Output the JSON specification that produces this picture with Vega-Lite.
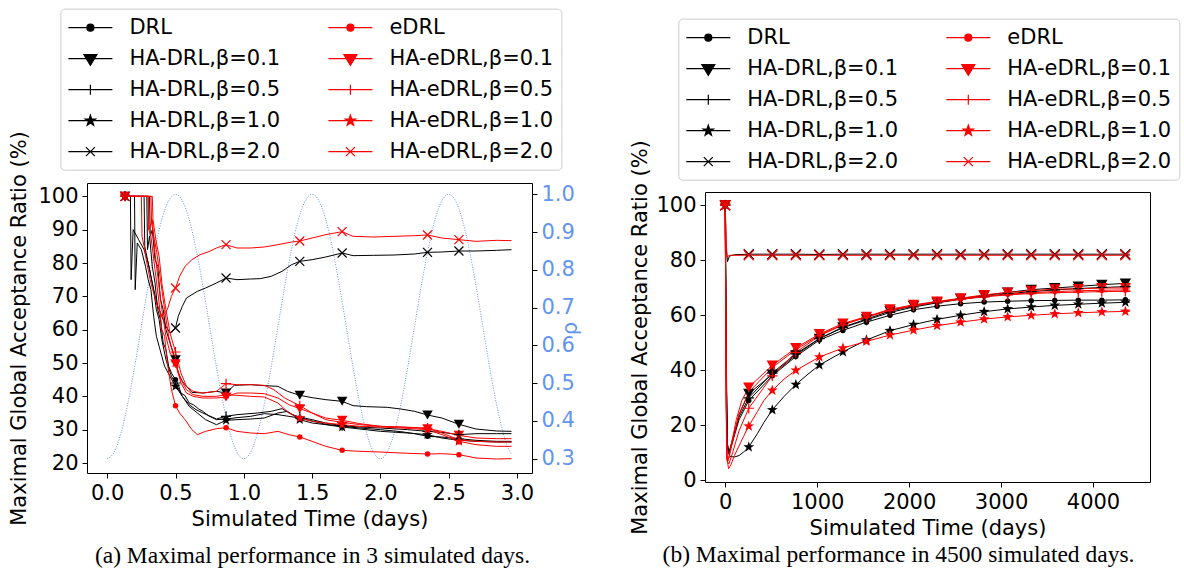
{
"$schema": "https://vega.github.io/schema/vega-lite/v6.json",
"padding": {"left": 8, "top": 7, "right": 5, "bottom": 5},
"spacing": 48,
"resolve": {"scale": {"color": "independent", "shape": "independent", "fill": "independent", "stroke": "independent"}, "legend": {"color": "independent", "shape": "independent", "fill": "independent", "stroke": "independent"}},
"config": {
  "font": "DejaVu Sans",
  "view": {"stroke": "#000000", "strokeWidth": 1},
  "axis": {"domain": false, "grid": false, "ticks": true, "tickColor": "#000000", "tickSize": 5, "tickWidth": 1, "labelFont": "DejaVu Sans", "labelFontSize": 21, "labelColor": "#000000", "labelPadding": 4, "labelOverlap": false, "labelFlush": false, "titleFont": "DejaVu Sans", "titleFontSize": 21, "titleFontWeight": "normal", "titleColor": "#000000", "titleLimit": 1000},
  "title": {"font": "Liberation Serif", "fontSize": 23.5, "fontWeight": "normal", "color": "#000000"}
},
"datasets": {
"rho": [
{"t":0,"rho":0.3},{"t":0.05,"rho":0.3171},{"t":0.1,"rho":0.3669},{"t":0.15,"rho":0.4443},{"t":0.2,"rho":0.5418},{"t":0.25,"rho":0.65},{"t":0.3,"rho":0.7582},{"t":0.35,"rho":0.8557},{"t":0.4,"rho":0.9332},{"t":0.45,"rho":0.9829},{"t":0.5,"rho":1},{"t":0.55,"rho":0.9829},{"t":0.6,"rho":0.9332},{"t":0.65,"rho":0.8557},{"t":0.7,"rho":0.7582},{"t":0.75,"rho":0.65},{"t":0.8,"rho":0.5418},{"t":0.85,"rho":0.4443},{"t":0.9,"rho":0.3669},{"t":0.95,"rho":0.3171},
{"t":1,"rho":0.3},{"t":1.05,"rho":0.3171},{"t":1.1,"rho":0.3669},{"t":1.15,"rho":0.4443},{"t":1.2,"rho":0.5418},{"t":1.25,"rho":0.65},{"t":1.3,"rho":0.7582},{"t":1.35,"rho":0.8557},{"t":1.4,"rho":0.9332},{"t":1.45,"rho":0.9829},{"t":1.5,"rho":1},{"t":1.55,"rho":0.9829},{"t":1.6,"rho":0.9332},{"t":1.65,"rho":0.8557},{"t":1.7,"rho":0.7582},{"t":1.75,"rho":0.65},{"t":1.8,"rho":0.5418},{"t":1.85,"rho":0.4443},{"t":1.9,"rho":0.3669},{"t":1.95,"rho":0.3171},
{"t":2,"rho":0.3},{"t":2.05,"rho":0.3171},{"t":2.1,"rho":0.3669},{"t":2.15,"rho":0.4443},{"t":2.2,"rho":0.5418},{"t":2.25,"rho":0.65},{"t":2.3,"rho":0.7582},{"t":2.35,"rho":0.8557},{"t":2.4,"rho":0.9332},{"t":2.45,"rho":0.9829},{"t":2.5,"rho":1},{"t":2.55,"rho":0.9829},{"t":2.6,"rho":0.9332},{"t":2.65,"rho":0.8557},{"t":2.7,"rho":0.7582},{"t":2.75,"rho":0.65},{"t":2.8,"rho":0.5418},{"t":2.85,"rho":0.4443},{"t":2.9,"rho":0.3669},{"t":2.95,"rho":0.3171},{"t":2.96,"rho":0.311}
],
"a": [
{"s":"DRL","t":0.13,"v":100},{"s":"DRL","t":0.29,"v":100},{"s":"DRL","t":0.295,"v":84},{"s":"DRL","t":0.31,"v":88},{"s":"DRL","t":0.33,"v":79},{"s":"DRL","t":0.35,"v":74},{"s":"DRL","t":0.37,"v":66},{"s":"DRL","t":0.39,"v":63},{"s":"DRL","t":0.41,"v":56},{"s":"DRL","t":0.43,"v":54},{"s":"DRL","t":0.45,"v":49},{"s":"DRL","t":0.47,"v":47},{"s":"DRL","t":0.5,"v":45},{"s":"DRL","t":0.52,"v":43.5},{"s":"DRL","t":0.54,"v":41},{"s":"DRL","t":0.57,"v":40.2},{"s":"DRL","t":0.6,"v":38},{"s":"DRL","t":0.63,"v":37.5},{"s":"DRL","t":0.67,"v":36.2},{"s":"DRL","t":0.7,"v":35.5},{"s":"DRL","t":0.74,"v":34.2},{"s":"DRL","t":0.8,"v":33},{"s":"DRL","t":0.87,"v":33.2},{"s":"DRL","t":0.95,"v":33.6},{"s":"DRL","t":1.05,"v":34},{"s":"DRL","t":1.15,"v":34.8},{"s":"DRL","t":1.25,"v":34.5},{"s":"DRL","t":1.33,"v":34},{"s":"DRL","t":1.41,"v":33.5},{"s":"DRL","t":1.5,"v":32.6},{"s":"DRL","t":1.6,"v":31.6},{"s":"DRL","t":1.72,"v":31},{"s":"DRL","t":1.85,"v":30.5},{"s":"DRL","t":2.0,"v":30},{"s":"DRL","t":2.15,"v":29.4},{"s":"DRL","t":2.25,"v":28.8},{"s":"DRL","t":2.345,"v":28},{"s":"DRL","t":2.45,"v":27.8},{"s":"DRL","t":2.575,"v":27.3},{"s":"DRL","t":2.7,"v":26.8},{"s":"DRL","t":2.85,"v":26.5},{"s":"DRL","t":2.96,"v":26.5},
{"s":"HA-DRL,β=0.1","t":0.13,"v":100},{"s":"HA-DRL,β=0.1","t":0.31,"v":100},{"s":"HA-DRL,β=0.1","t":0.315,"v":88},{"s":"HA-DRL,β=0.1","t":0.33,"v":90},{"s":"HA-DRL,β=0.1","t":0.35,"v":81},{"s":"HA-DRL,β=0.1","t":0.37,"v":79},{"s":"HA-DRL,β=0.1","t":0.39,"v":69},{"s":"HA-DRL,β=0.1","t":0.41,"v":66},{"s":"HA-DRL,β=0.1","t":0.43,"v":60},{"s":"HA-DRL,β=0.1","t":0.46,"v":56},{"s":"HA-DRL,β=0.1","t":0.5,"v":51},{"s":"HA-DRL,β=0.1","t":0.52,"v":47},{"s":"HA-DRL,β=0.1","t":0.55,"v":44.5},{"s":"HA-DRL,β=0.1","t":0.58,"v":43},{"s":"HA-DRL,β=0.1","t":0.62,"v":41.2},{"s":"HA-DRL,β=0.1","t":0.7,"v":41},{"s":"HA-DRL,β=0.1","t":0.8,"v":41.5},{"s":"HA-DRL,β=0.1","t":0.87,"v":41},{"s":"HA-DRL,β=0.1","t":0.93,"v":43.3},{"s":"HA-DRL,β=0.1","t":1.05,"v":43.5},{"s":"HA-DRL,β=0.1","t":1.15,"v":43.2},{"s":"HA-DRL,β=0.1","t":1.25,"v":43},{"s":"HA-DRL,β=0.1","t":1.32,"v":41.5},{"s":"HA-DRL,β=0.1","t":1.41,"v":40.3},{"s":"HA-DRL,β=0.1","t":1.5,"v":39.6},{"s":"HA-DRL,β=0.1","t":1.6,"v":39},{"s":"HA-DRL,β=0.1","t":1.72,"v":38.5},{"s":"HA-DRL,β=0.1","t":1.8,"v":37.2},{"s":"HA-DRL,β=0.1","t":1.9,"v":36.9},{"s":"HA-DRL,β=0.1","t":2.05,"v":36.7},{"s":"HA-DRL,β=0.1","t":2.15,"v":36.2},{"s":"HA-DRL,β=0.1","t":2.25,"v":35.5},{"s":"HA-DRL,β=0.1","t":2.345,"v":34.4},{"s":"HA-DRL,β=0.1","t":2.45,"v":33.5},{"s":"HA-DRL,β=0.1","t":2.575,"v":31.6},{"s":"HA-DRL,β=0.1","t":2.7,"v":30.2},{"s":"HA-DRL,β=0.1","t":2.85,"v":29.6},{"s":"HA-DRL,β=0.1","t":2.96,"v":29.5},
{"s":"HA-DRL,β=0.5","t":0.13,"v":100},{"s":"HA-DRL,β=0.5","t":0.27,"v":100},{"s":"HA-DRL,β=0.5","t":0.275,"v":85},{"s":"HA-DRL,β=0.5","t":0.29,"v":82},{"s":"HA-DRL,β=0.5","t":0.31,"v":78},{"s":"HA-DRL,β=0.5","t":0.34,"v":72},{"s":"HA-DRL,β=0.5","t":0.36,"v":66},{"s":"HA-DRL,β=0.5","t":0.38,"v":63},{"s":"HA-DRL,β=0.5","t":0.4,"v":57},{"s":"HA-DRL,β=0.5","t":0.43,"v":51},{"s":"HA-DRL,β=0.5","t":0.47,"v":46},{"s":"HA-DRL,β=0.5","t":0.5,"v":44},{"s":"HA-DRL,β=0.5","t":0.55,"v":40},{"s":"HA-DRL,β=0.5","t":0.6,"v":37.5},{"s":"HA-DRL,β=0.5","t":0.65,"v":36},{"s":"HA-DRL,β=0.5","t":0.7,"v":35},{"s":"HA-DRL,β=0.5","t":0.8,"v":33.2},{"s":"HA-DRL,β=0.5","t":0.87,"v":34},{"s":"HA-DRL,β=0.5","t":0.95,"v":34.5},{"s":"HA-DRL,β=0.5","t":1.1,"v":35},{"s":"HA-DRL,β=0.5","t":1.2,"v":35.5},{"s":"HA-DRL,β=0.5","t":1.28,"v":36.3},{"s":"HA-DRL,β=0.5","t":1.35,"v":34.6},{"s":"HA-DRL,β=0.5","t":1.41,"v":33.8},{"s":"HA-DRL,β=0.5","t":1.5,"v":33},{"s":"HA-DRL,β=0.5","t":1.6,"v":32},{"s":"HA-DRL,β=0.5","t":1.72,"v":31.2},{"s":"HA-DRL,β=0.5","t":1.85,"v":30.8},{"s":"HA-DRL,β=0.5","t":2.0,"v":30.5},{"s":"HA-DRL,β=0.5","t":2.2,"v":30},{"s":"HA-DRL,β=0.5","t":2.345,"v":29.5},{"s":"HA-DRL,β=0.5","t":2.45,"v":29.2},{"s":"HA-DRL,β=0.5","t":2.575,"v":28.5},{"s":"HA-DRL,β=0.5","t":2.7,"v":28.8},{"s":"HA-DRL,β=0.5","t":2.85,"v":28.8},{"s":"HA-DRL,β=0.5","t":2.96,"v":28.8},
{"s":"HA-DRL,β=1.0","t":0.13,"v":100},{"s":"HA-DRL,β=1.0","t":0.2,"v":100},{"s":"HA-DRL,β=1.0","t":0.205,"v":72},{"s":"HA-DRL,β=1.0","t":0.22,"v":86},{"s":"HA-DRL,β=1.0","t":0.25,"v":84},{"s":"HA-DRL,β=1.0","t":0.28,"v":79},{"s":"HA-DRL,β=1.0","t":0.3,"v":75},{"s":"HA-DRL,β=1.0","t":0.32,"v":72},{"s":"HA-DRL,β=1.0","t":0.34,"v":64},{"s":"HA-DRL,β=1.0","t":0.36,"v":58},{"s":"HA-DRL,β=1.0","t":0.38,"v":55},{"s":"HA-DRL,β=1.0","t":0.4,"v":52},{"s":"HA-DRL,β=1.0","t":0.42,"v":49},{"s":"HA-DRL,β=1.0","t":0.46,"v":46},{"s":"HA-DRL,β=1.0","t":0.5,"v":43},{"s":"HA-DRL,β=1.0","t":0.55,"v":40},{"s":"HA-DRL,β=1.0","t":0.6,"v":37},{"s":"HA-DRL,β=1.0","t":0.66,"v":35},{"s":"HA-DRL,β=1.0","t":0.72,"v":33},{"s":"HA-DRL,β=1.0","t":0.8,"v":31.5},{"s":"HA-DRL,β=1.0","t":0.87,"v":32.8},{"s":"HA-DRL,β=1.0","t":0.95,"v":33},{"s":"HA-DRL,β=1.0","t":1.05,"v":33.2},{"s":"HA-DRL,β=1.0","t":1.15,"v":33.5},{"s":"HA-DRL,β=1.0","t":1.25,"v":35},{"s":"HA-DRL,β=1.0","t":1.32,"v":35.5},{"s":"HA-DRL,β=1.0","t":1.41,"v":33},{"s":"HA-DRL,β=1.0","t":1.5,"v":32},{"s":"HA-DRL,β=1.0","t":1.6,"v":31.5},{"s":"HA-DRL,β=1.0","t":1.72,"v":30.8},{"s":"HA-DRL,β=1.0","t":1.85,"v":30.2},{"s":"HA-DRL,β=1.0","t":2.0,"v":29.5},{"s":"HA-DRL,β=1.0","t":2.2,"v":29},{"s":"HA-DRL,β=1.0","t":2.345,"v":28.5},{"s":"HA-DRL,β=1.0","t":2.45,"v":27.5},{"s":"HA-DRL,β=1.0","t":2.575,"v":26.8},{"s":"HA-DRL,β=1.0","t":2.7,"v":26.5},{"s":"HA-DRL,β=1.0","t":2.85,"v":26.3},{"s":"HA-DRL,β=1.0","t":2.96,"v":26.3},
{"s":"HA-DRL,β=2.0","t":0.13,"v":100},{"s":"HA-DRL,β=2.0","t":0.17,"v":100},{"s":"HA-DRL,β=2.0","t":0.175,"v":75},{"s":"HA-DRL,β=2.0","t":0.19,"v":90},{"s":"HA-DRL,β=2.0","t":0.23,"v":87},{"s":"HA-DRL,β=2.0","t":0.27,"v":84},{"s":"HA-DRL,β=2.0","t":0.3,"v":80},{"s":"HA-DRL,β=2.0","t":0.32,"v":76},{"s":"HA-DRL,β=2.0","t":0.34,"v":72},{"s":"HA-DRL,β=2.0","t":0.37,"v":67},{"s":"HA-DRL,β=2.0","t":0.4,"v":64},{"s":"HA-DRL,β=2.0","t":0.43,"v":61},{"s":"HA-DRL,β=2.0","t":0.46,"v":59},{"s":"HA-DRL,β=2.0","t":0.5,"v":60.5},{"s":"HA-DRL,β=2.0","t":0.52,"v":64},{"s":"HA-DRL,β=2.0","t":0.55,"v":67},{"s":"HA-DRL,β=2.0","t":0.58,"v":69.5},{"s":"HA-DRL,β=2.0","t":0.62,"v":70.5},{"s":"HA-DRL,β=2.0","t":0.66,"v":71.5},{"s":"HA-DRL,β=2.0","t":0.72,"v":72.5},{"s":"HA-DRL,β=2.0","t":0.8,"v":74},{"s":"HA-DRL,β=2.0","t":0.87,"v":75.5},{"s":"HA-DRL,β=2.0","t":0.95,"v":75},{"s":"HA-DRL,β=2.0","t":1.05,"v":75.2},{"s":"HA-DRL,β=2.0","t":1.12,"v":75.3},{"s":"HA-DRL,β=2.0","t":1.2,"v":76},{"s":"HA-DRL,β=2.0","t":1.28,"v":77.5},{"s":"HA-DRL,β=2.0","t":1.35,"v":79.5},{"s":"HA-DRL,β=2.0","t":1.41,"v":80.5},{"s":"HA-DRL,β=2.0","t":1.5,"v":81},{"s":"HA-DRL,β=2.0","t":1.6,"v":81.8},{"s":"HA-DRL,β=2.0","t":1.72,"v":83},{"s":"HA-DRL,β=2.0","t":1.8,"v":82.2},{"s":"HA-DRL,β=2.0","t":1.95,"v":82.3},{"s":"HA-DRL,β=2.0","t":2.1,"v":82.4},{"s":"HA-DRL,β=2.0","t":2.25,"v":82.7},{"s":"HA-DRL,β=2.0","t":2.345,"v":83.2},{"s":"HA-DRL,β=2.0","t":2.45,"v":83.3},{"s":"HA-DRL,β=2.0","t":2.575,"v":83.6},{"s":"HA-DRL,β=2.0","t":2.7,"v":83.6},{"s":"HA-DRL,β=2.0","t":2.85,"v":83.8},{"s":"HA-DRL,β=2.0","t":2.96,"v":84},
{"s":"eDRL","t":0.13,"v":100},{"s":"eDRL","t":0.3,"v":100},{"s":"eDRL","t":0.305,"v":90},{"s":"eDRL","t":0.32,"v":88},{"s":"eDRL","t":0.35,"v":78},{"s":"eDRL","t":0.38,"v":68},{"s":"eDRL","t":0.4,"v":60},{"s":"eDRL","t":0.42,"v":58},{"s":"eDRL","t":0.44,"v":50},{"s":"eDRL","t":0.47,"v":42},{"s":"eDRL","t":0.5,"v":37.2},{"s":"eDRL","t":0.53,"v":35},{"s":"eDRL","t":0.57,"v":33},{"s":"eDRL","t":0.62,"v":30},{"s":"eDRL","t":0.66,"v":28.5},{"s":"eDRL","t":0.72,"v":29.5},{"s":"eDRL","t":0.8,"v":30.3},{"s":"eDRL","t":0.87,"v":30.6},{"s":"eDRL","t":0.95,"v":29.5},{"s":"eDRL","t":1.05,"v":29},{"s":"eDRL","t":1.15,"v":28.8},{"s":"eDRL","t":1.25,"v":29.5},{"s":"eDRL","t":1.33,"v":28.5},{"s":"eDRL","t":1.41,"v":27.8},{"s":"eDRL","t":1.5,"v":26.5},{"s":"eDRL","t":1.6,"v":25},{"s":"eDRL","t":1.72,"v":23.8},{"s":"eDRL","t":1.85,"v":23.5},{"s":"eDRL","t":2.0,"v":23.3},{"s":"eDRL","t":2.15,"v":23},{"s":"eDRL","t":2.345,"v":22.7},{"s":"eDRL","t":2.45,"v":22.8},{"s":"eDRL","t":2.575,"v":22.5},{"s":"eDRL","t":2.7,"v":21.5},{"s":"eDRL","t":2.85,"v":21.2},{"s":"eDRL","t":2.96,"v":21.3},
{"s":"HA-eDRL,β=0.1","t":0.13,"v":100},{"s":"HA-eDRL,β=0.1","t":0.32,"v":100},{"s":"HA-eDRL,β=0.1","t":0.325,"v":92},{"s":"HA-eDRL,β=0.1","t":0.34,"v":88},{"s":"HA-eDRL,β=0.1","t":0.36,"v":84},{"s":"HA-eDRL,β=0.1","t":0.39,"v":75},{"s":"HA-eDRL,β=0.1","t":0.42,"v":66},{"s":"HA-eDRL,β=0.1","t":0.45,"v":58},{"s":"HA-eDRL,β=0.1","t":0.48,"v":53},{"s":"HA-eDRL,β=0.1","t":0.5,"v":49.8},{"s":"HA-eDRL,β=0.1","t":0.54,"v":44},{"s":"HA-eDRL,β=0.1","t":0.58,"v":41},{"s":"HA-eDRL,β=0.1","t":0.63,"v":40},{"s":"HA-eDRL,β=0.1","t":0.7,"v":39.5},{"s":"HA-eDRL,β=0.1","t":0.8,"v":39.5},{"s":"HA-eDRL,β=0.1","t":0.87,"v":39.8},{"s":"HA-eDRL,β=0.1","t":0.95,"v":41},{"s":"HA-eDRL,β=0.1","t":1.05,"v":41},{"s":"HA-eDRL,β=0.1","t":1.15,"v":40.8},{"s":"HA-eDRL,β=0.1","t":1.25,"v":39.5},{"s":"HA-eDRL,β=0.1","t":1.33,"v":37.5},{"s":"HA-eDRL,β=0.1","t":1.41,"v":36.3},{"s":"HA-eDRL,β=0.1","t":1.5,"v":35},{"s":"HA-eDRL,β=0.1","t":1.6,"v":33.5},{"s":"HA-eDRL,β=0.1","t":1.72,"v":32.8},{"s":"HA-eDRL,β=0.1","t":1.85,"v":31.8},{"s":"HA-eDRL,β=0.1","t":2.0,"v":31},{"s":"HA-eDRL,β=0.1","t":2.15,"v":30.8},{"s":"HA-eDRL,β=0.1","t":2.345,"v":30.3},{"s":"HA-eDRL,β=0.1","t":2.45,"v":29.5},{"s":"HA-eDRL,β=0.1","t":2.575,"v":28.3},{"s":"HA-eDRL,β=0.1","t":2.7,"v":27.5},{"s":"HA-eDRL,β=0.1","t":2.85,"v":27.3},{"s":"HA-eDRL,β=0.1","t":2.96,"v":27.3},
{"s":"HA-eDRL,β=0.5","t":0.13,"v":100},{"s":"HA-eDRL,β=0.5","t":0.33,"v":100},{"s":"HA-eDRL,β=0.5","t":0.335,"v":93},{"s":"HA-eDRL,β=0.5","t":0.36,"v":86},{"s":"HA-eDRL,β=0.5","t":0.38,"v":82},{"s":"HA-eDRL,β=0.5","t":0.4,"v":74},{"s":"HA-eDRL,β=0.5","t":0.43,"v":66},{"s":"HA-eDRL,β=0.5","t":0.46,"v":59},{"s":"HA-eDRL,β=0.5","t":0.5,"v":53.3},{"s":"HA-eDRL,β=0.5","t":0.54,"v":47},{"s":"HA-eDRL,β=0.5","t":0.58,"v":43},{"s":"HA-eDRL,β=0.5","t":0.63,"v":41.5},{"s":"HA-eDRL,β=0.5","t":0.7,"v":41},{"s":"HA-eDRL,β=0.5","t":0.8,"v":41.5},{"s":"HA-eDRL,β=0.5","t":0.87,"v":43.8},{"s":"HA-eDRL,β=0.5","t":0.95,"v":43.5},{"s":"HA-eDRL,β=0.5","t":1.05,"v":43.5},{"s":"HA-eDRL,β=0.5","t":1.15,"v":43.3},{"s":"HA-eDRL,β=0.5","t":1.22,"v":42},{"s":"HA-eDRL,β=0.5","t":1.3,"v":39.5},{"s":"HA-eDRL,β=0.5","t":1.41,"v":37.2},{"s":"HA-eDRL,β=0.5","t":1.5,"v":35},{"s":"HA-eDRL,β=0.5","t":1.6,"v":33},{"s":"HA-eDRL,β=0.5","t":1.72,"v":32.2},{"s":"HA-eDRL,β=0.5","t":1.85,"v":31.5},{"s":"HA-eDRL,β=0.5","t":2.0,"v":31},{"s":"HA-eDRL,β=0.5","t":2.15,"v":30.8},{"s":"HA-eDRL,β=0.5","t":2.345,"v":30.5},{"s":"HA-eDRL,β=0.5","t":2.45,"v":29},{"s":"HA-eDRL,β=0.5","t":2.575,"v":27},{"s":"HA-eDRL,β=0.5","t":2.7,"v":26.5},{"s":"HA-eDRL,β=0.5","t":2.85,"v":26.3},{"s":"HA-eDRL,β=0.5","t":2.96,"v":26.3},
{"s":"HA-eDRL,β=1.0","t":0.13,"v":100},{"s":"HA-eDRL,β=1.0","t":0.3,"v":100},{"s":"HA-eDRL,β=1.0","t":0.305,"v":90},{"s":"HA-eDRL,β=1.0","t":0.33,"v":93},{"s":"HA-eDRL,β=1.0","t":0.35,"v":83},{"s":"HA-eDRL,β=1.0","t":0.37,"v":76},{"s":"HA-eDRL,β=1.0","t":0.4,"v":66},{"s":"HA-eDRL,β=1.0","t":0.43,"v":58},{"s":"HA-eDRL,β=1.0","t":0.46,"v":53},{"s":"HA-eDRL,β=1.0","t":0.5,"v":50},{"s":"HA-eDRL,β=1.0","t":0.54,"v":45},{"s":"HA-eDRL,β=1.0","t":0.58,"v":42},{"s":"HA-eDRL,β=1.0","t":0.63,"v":40.5},{"s":"HA-eDRL,β=1.0","t":0.7,"v":40},{"s":"HA-eDRL,β=1.0","t":0.8,"v":40},{"s":"HA-eDRL,β=1.0","t":0.87,"v":40.5},{"s":"HA-eDRL,β=1.0","t":0.95,"v":40.3},{"s":"HA-eDRL,β=1.0","t":1.05,"v":40},{"s":"HA-eDRL,β=1.0","t":1.15,"v":39.8},{"s":"HA-eDRL,β=1.0","t":1.25,"v":38},{"s":"HA-eDRL,β=1.0","t":1.33,"v":35},{"s":"HA-eDRL,β=1.0","t":1.41,"v":33.5},{"s":"HA-eDRL,β=1.0","t":1.5,"v":32.5},{"s":"HA-eDRL,β=1.0","t":1.6,"v":32},{"s":"HA-eDRL,β=1.0","t":1.72,"v":31.5},{"s":"HA-eDRL,β=1.0","t":1.85,"v":31},{"s":"HA-eDRL,β=1.0","t":2.0,"v":30.8},{"s":"HA-eDRL,β=1.0","t":2.15,"v":30.5},{"s":"HA-eDRL,β=1.0","t":2.345,"v":30},{"s":"HA-eDRL,β=1.0","t":2.45,"v":28.5},{"s":"HA-eDRL,β=1.0","t":2.575,"v":26.5},{"s":"HA-eDRL,β=1.0","t":2.7,"v":25.5},{"s":"HA-eDRL,β=1.0","t":2.85,"v":25},{"s":"HA-eDRL,β=1.0","t":2.96,"v":25},
{"s":"HA-eDRL,β=2.0","t":0.13,"v":100},{"s":"HA-eDRL,β=2.0","t":0.25,"v":100},{"s":"HA-eDRL,β=2.0","t":0.255,"v":88},{"s":"HA-eDRL,β=2.0","t":0.27,"v":85},{"s":"HA-eDRL,β=2.0","t":0.29,"v":80},{"s":"HA-eDRL,β=2.0","t":0.32,"v":74},{"s":"HA-eDRL,β=2.0","t":0.36,"v":68},{"s":"HA-eDRL,β=2.0","t":0.4,"v":64},{"s":"HA-eDRL,β=2.0","t":0.44,"v":66},{"s":"HA-eDRL,β=2.0","t":0.47,"v":70},{"s":"HA-eDRL,β=2.0","t":0.5,"v":72.5},{"s":"HA-eDRL,β=2.0","t":0.53,"v":76},{"s":"HA-eDRL,β=2.0","t":0.57,"v":79},{"s":"HA-eDRL,β=2.0","t":0.62,"v":81},{"s":"HA-eDRL,β=2.0","t":0.68,"v":82.5},{"s":"HA-eDRL,β=2.0","t":0.75,"v":83.5},{"s":"HA-eDRL,β=2.0","t":0.8,"v":84.5},{"s":"HA-eDRL,β=2.0","t":0.87,"v":85.5},{"s":"HA-eDRL,β=2.0","t":0.95,"v":84.5},{"s":"HA-eDRL,β=2.0","t":1.05,"v":84.5},{"s":"HA-eDRL,β=2.0","t":1.15,"v":84.8},{"s":"HA-eDRL,β=2.0","t":1.25,"v":85.5},{"s":"HA-eDRL,β=2.0","t":1.35,"v":86.3},{"s":"HA-eDRL,β=2.0","t":1.41,"v":86.6},{"s":"HA-eDRL,β=2.0","t":1.5,"v":87.5},{"s":"HA-eDRL,β=2.0","t":1.6,"v":88.5},{"s":"HA-eDRL,β=2.0","t":1.72,"v":89.4},{"s":"HA-eDRL,β=2.0","t":1.8,"v":88},{"s":"HA-eDRL,β=2.0","t":1.95,"v":87.8},{"s":"HA-eDRL,β=2.0","t":2.1,"v":88},{"s":"HA-eDRL,β=2.0","t":2.25,"v":88.2},{"s":"HA-eDRL,β=2.0","t":2.345,"v":88.4},{"s":"HA-eDRL,β=2.0","t":2.45,"v":87.5},{"s":"HA-eDRL,β=2.0","t":2.575,"v":87},{"s":"HA-eDRL,β=2.0","t":2.7,"v":86.5},{"s":"HA-eDRL,β=2.0","t":2.85,"v":86.8},{"s":"HA-eDRL,β=2.0","t":2.96,"v":86.7}
],
"b": [
{"s":"DRL","d":0,"v":100},{"s":"DRL","d":10,"v":55},{"s":"DRL","d":20,"v":14},{"s":"DRL","d":40,"v":10},{"s":"DRL","d":80,"v":14},{"s":"DRL","d":150,"v":22},{"s":"DRL","d":256,"v":29},{"s":"DRL","d":512,"v":38},{"s":"DRL","d":768,"v":45},{"s":"DRL","d":1024,"v":51},{"s":"DRL","d":1280,"v":54.5},{"s":"DRL","d":1536,"v":57.5},{"s":"DRL","d":1792,"v":60},{"s":"DRL","d":2048,"v":62},{"s":"DRL","d":2304,"v":63.3},{"s":"DRL","d":2560,"v":64.2},{"s":"DRL","d":2816,"v":64.8},{"s":"DRL","d":3072,"v":65.1},{"s":"DRL","d":3328,"v":65.3},{"s":"DRL","d":3584,"v":65.4},{"s":"DRL","d":3840,"v":65.5},{"s":"DRL","d":4096,"v":65.5},{"s":"DRL","d":4352,"v":65.6},{"s":"DRL","d":4400,"v":65.6},
{"s":"HA-DRL,β=0.1","d":0,"v":100},{"s":"HA-DRL,β=0.1","d":10,"v":50},{"s":"HA-DRL,β=0.1","d":20,"v":12},{"s":"HA-DRL,β=0.1","d":40,"v":9.5},{"s":"HA-DRL,β=0.1","d":70,"v":13},{"s":"HA-DRL,β=0.1","d":150,"v":24},{"s":"HA-DRL,β=0.1","d":256,"v":31.5},{"s":"HA-DRL,β=0.1","d":512,"v":38.5},{"s":"HA-DRL,β=0.1","d":768,"v":45.5},{"s":"HA-DRL,β=0.1","d":1024,"v":51.5},{"s":"HA-DRL,β=0.1","d":1280,"v":55.7},{"s":"HA-DRL,β=0.1","d":1536,"v":58.6},{"s":"HA-DRL,β=0.1","d":1792,"v":61.5},{"s":"HA-DRL,β=0.1","d":2048,"v":63.4},{"s":"HA-DRL,β=0.1","d":2304,"v":64.7},{"s":"HA-DRL,β=0.1","d":2560,"v":66},{"s":"HA-DRL,β=0.1","d":2816,"v":67.2},{"s":"HA-DRL,β=0.1","d":3072,"v":68.3},{"s":"HA-DRL,β=0.1","d":3328,"v":69.3},{"s":"HA-DRL,β=0.1","d":3584,"v":69.9},{"s":"HA-DRL,β=0.1","d":3840,"v":70.5},{"s":"HA-DRL,β=0.1","d":4096,"v":71.1},{"s":"HA-DRL,β=0.1","d":4352,"v":71.6},{"s":"HA-DRL,β=0.1","d":4400,"v":71.6},
{"s":"HA-DRL,β=0.5","d":0,"v":100},{"s":"HA-DRL,β=0.5","d":10,"v":45},{"s":"HA-DRL,β=0.5","d":20,"v":14},{"s":"HA-DRL,β=0.5","d":40,"v":10},{"s":"HA-DRL,β=0.5","d":80,"v":15},{"s":"HA-DRL,β=0.5","d":150,"v":23},{"s":"HA-DRL,β=0.5","d":256,"v":30},{"s":"HA-DRL,β=0.5","d":512,"v":39},{"s":"HA-DRL,β=0.5","d":768,"v":46},{"s":"HA-DRL,β=0.5","d":1024,"v":51.5},{"s":"HA-DRL,β=0.5","d":1280,"v":55.5},{"s":"HA-DRL,β=0.5","d":1536,"v":58.3},{"s":"HA-DRL,β=0.5","d":1792,"v":61},{"s":"HA-DRL,β=0.5","d":2048,"v":63},{"s":"HA-DRL,β=0.5","d":2304,"v":64.5},{"s":"HA-DRL,β=0.5","d":2560,"v":65.8},{"s":"HA-DRL,β=0.5","d":2816,"v":66.8},{"s":"HA-DRL,β=0.5","d":3072,"v":67.8},{"s":"HA-DRL,β=0.5","d":3328,"v":68.6},{"s":"HA-DRL,β=0.5","d":3584,"v":69.2},{"s":"HA-DRL,β=0.5","d":3840,"v":69.7},{"s":"HA-DRL,β=0.5","d":4096,"v":70.1},{"s":"HA-DRL,β=0.5","d":4352,"v":70.4},{"s":"HA-DRL,β=0.5","d":4400,"v":70.4},
{"s":"HA-DRL,β=1.0","d":0,"v":100},{"s":"HA-DRL,β=1.0","d":10,"v":40},{"s":"HA-DRL,β=1.0","d":25,"v":12},{"s":"HA-DRL,β=1.0","d":50,"v":8.7},{"s":"HA-DRL,β=1.0","d":100,"v":8.5},{"s":"HA-DRL,β=1.0","d":150,"v":9},{"s":"HA-DRL,β=1.0","d":200,"v":10.3},{"s":"HA-DRL,β=1.0","d":256,"v":12.1},{"s":"HA-DRL,β=1.0","d":350,"v":17},{"s":"HA-DRL,β=1.0","d":420,"v":21},{"s":"HA-DRL,β=1.0","d":512,"v":25.6},{"s":"HA-DRL,β=1.0","d":640,"v":30.5},{"s":"HA-DRL,β=1.0","d":768,"v":34.8},{"s":"HA-DRL,β=1.0","d":900,"v":38.6},{"s":"HA-DRL,β=1.0","d":1024,"v":41.9},{"s":"HA-DRL,β=1.0","d":1280,"v":46.7},{"s":"HA-DRL,β=1.0","d":1536,"v":51},{"s":"HA-DRL,β=1.0","d":1792,"v":54.4},{"s":"HA-DRL,β=1.0","d":2048,"v":56.6},{"s":"HA-DRL,β=1.0","d":2304,"v":58.5},{"s":"HA-DRL,β=1.0","d":2560,"v":60},{"s":"HA-DRL,β=1.0","d":2816,"v":61.3},{"s":"HA-DRL,β=1.0","d":3072,"v":62.3},{"s":"HA-DRL,β=1.0","d":3328,"v":63},{"s":"HA-DRL,β=1.0","d":3584,"v":63.6},{"s":"HA-DRL,β=1.0","d":3840,"v":64},{"s":"HA-DRL,β=1.0","d":4096,"v":64.4},{"s":"HA-DRL,β=1.0","d":4352,"v":64.7},{"s":"HA-DRL,β=1.0","d":4400,"v":64.7},
{"s":"HA-DRL,β=2.0","d":0,"v":100},{"s":"HA-DRL,β=2.0","d":10,"v":85},{"s":"HA-DRL,β=2.0","d":25,"v":79.5},{"s":"HA-DRL,β=2.0","d":45,"v":81.5},{"s":"HA-DRL,β=2.0","d":100,"v":82},{"s":"HA-DRL,β=2.0","d":256,"v":82.2},{"s":"HA-DRL,β=2.0","d":512,"v":82.2},{"s":"HA-DRL,β=2.0","d":768,"v":82.2},{"s":"HA-DRL,β=2.0","d":1024,"v":82.1},{"s":"HA-DRL,β=2.0","d":1280,"v":82.2},{"s":"HA-DRL,β=2.0","d":1536,"v":82.2},{"s":"HA-DRL,β=2.0","d":1792,"v":82.2},{"s":"HA-DRL,β=2.0","d":2048,"v":82.2},{"s":"HA-DRL,β=2.0","d":2304,"v":82.2},{"s":"HA-DRL,β=2.0","d":2560,"v":82.2},{"s":"HA-DRL,β=2.0","d":2816,"v":82.2},{"s":"HA-DRL,β=2.0","d":3072,"v":82.2},{"s":"HA-DRL,β=2.0","d":3328,"v":82.2},{"s":"HA-DRL,β=2.0","d":3584,"v":82.2},{"s":"HA-DRL,β=2.0","d":3840,"v":82.2},{"s":"HA-DRL,β=2.0","d":4096,"v":82.2},{"s":"HA-DRL,β=2.0","d":4352,"v":82.2},{"s":"HA-DRL,β=2.0","d":4400,"v":82.2},
{"s":"eDRL","d":0,"v":100},{"s":"eDRL","d":10,"v":30},{"s":"eDRL","d":20,"v":8},{"s":"eDRL","d":40,"v":8},{"s":"eDRL","d":80,"v":14},{"s":"eDRL","d":150,"v":24},{"s":"eDRL","d":256,"v":32},{"s":"eDRL","d":512,"v":41},{"s":"eDRL","d":768,"v":47.5},{"s":"eDRL","d":1024,"v":52.8},{"s":"eDRL","d":1280,"v":56.6},{"s":"eDRL","d":1536,"v":59.4},{"s":"eDRL","d":1792,"v":61.9},{"s":"eDRL","d":2048,"v":63.5},{"s":"eDRL","d":2304,"v":64.9},{"s":"eDRL","d":2560,"v":66},{"s":"eDRL","d":2816,"v":66.9},{"s":"eDRL","d":3072,"v":67.6},{"s":"eDRL","d":3328,"v":68.2},{"s":"eDRL","d":3584,"v":68.6},{"s":"eDRL","d":3840,"v":68.9},{"s":"eDRL","d":4096,"v":69.1},{"s":"eDRL","d":4352,"v":69.2},{"s":"eDRL","d":4400,"v":69.2},
{"s":"HA-eDRL,β=0.1","d":0,"v":100},{"s":"HA-eDRL,β=0.1","d":8,"v":40},{"s":"HA-eDRL,β=0.1","d":15,"v":8},{"s":"HA-eDRL,β=0.1","d":30,"v":7},{"s":"HA-eDRL,β=0.1","d":60,"v":12},{"s":"HA-eDRL,β=0.1","d":120,"v":22},{"s":"HA-eDRL,β=0.1","d":180,"v":29},{"s":"HA-eDRL,β=0.1","d":256,"v":33.8},{"s":"HA-eDRL,β=0.1","d":512,"v":41.8},{"s":"HA-eDRL,β=0.1","d":768,"v":48.1},{"s":"HA-eDRL,β=0.1","d":1024,"v":53.2},{"s":"HA-eDRL,β=0.1","d":1280,"v":57},{"s":"HA-eDRL,β=0.1","d":1536,"v":59.5},{"s":"HA-eDRL,β=0.1","d":1792,"v":62.2},{"s":"HA-eDRL,β=0.1","d":2048,"v":63.8},{"s":"HA-eDRL,β=0.1","d":2304,"v":65},{"s":"HA-eDRL,β=0.1","d":2560,"v":66.2},{"s":"HA-eDRL,β=0.1","d":2816,"v":67.4},{"s":"HA-eDRL,β=0.1","d":3072,"v":68.3},{"s":"HA-eDRL,β=0.1","d":3328,"v":68.9},{"s":"HA-eDRL,β=0.1","d":3584,"v":69.5},{"s":"HA-eDRL,β=0.1","d":3840,"v":69.6},{"s":"HA-eDRL,β=0.1","d":4096,"v":69.9},{"s":"HA-eDRL,β=0.1","d":4352,"v":69.9},{"s":"HA-eDRL,β=0.1","d":4400,"v":69.9},
{"s":"HA-eDRL,β=0.5","d":0,"v":100},{"s":"HA-eDRL,β=0.5","d":10,"v":30},{"s":"HA-eDRL,β=0.5","d":20,"v":7},{"s":"HA-eDRL,β=0.5","d":40,"v":6},{"s":"HA-eDRL,β=0.5","d":80,"v":10},{"s":"HA-eDRL,β=0.5","d":150,"v":18},{"s":"HA-eDRL,β=0.5","d":256,"v":26.2},{"s":"HA-eDRL,β=0.5","d":512,"v":38},{"s":"HA-eDRL,β=0.5","d":768,"v":46.5},{"s":"HA-eDRL,β=0.5","d":1024,"v":52.5},{"s":"HA-eDRL,β=0.5","d":1280,"v":56.5},{"s":"HA-eDRL,β=0.5","d":1536,"v":59.3},{"s":"HA-eDRL,β=0.5","d":1792,"v":61.8},{"s":"HA-eDRL,β=0.5","d":2048,"v":63.5},{"s":"HA-eDRL,β=0.5","d":2304,"v":64.8},{"s":"HA-eDRL,β=0.5","d":2560,"v":65.8},{"s":"HA-eDRL,β=0.5","d":2816,"v":66.7},{"s":"HA-eDRL,β=0.5","d":3072,"v":67.4},{"s":"HA-eDRL,β=0.5","d":3328,"v":67.9},{"s":"HA-eDRL,β=0.5","d":3584,"v":68.2},{"s":"HA-eDRL,β=0.5","d":3840,"v":68.4},{"s":"HA-eDRL,β=0.5","d":4096,"v":68.6},{"s":"HA-eDRL,β=0.5","d":4352,"v":68.7},{"s":"HA-eDRL,β=0.5","d":4400,"v":68.7},
{"s":"HA-eDRL,β=1.0","d":0,"v":100},{"s":"HA-eDRL,β=1.0","d":8,"v":40},{"s":"HA-eDRL,β=1.0","d":20,"v":8},{"s":"HA-eDRL,β=1.0","d":36,"v":4.2},{"s":"HA-eDRL,β=1.0","d":60,"v":5.5},{"s":"HA-eDRL,β=1.0","d":100,"v":9},{"s":"HA-eDRL,β=1.0","d":150,"v":12.5},{"s":"HA-eDRL,β=1.0","d":200,"v":16},{"s":"HA-eDRL,β=1.0","d":256,"v":19.7},{"s":"HA-eDRL,β=1.0","d":350,"v":25},{"s":"HA-eDRL,β=1.0","d":420,"v":29},{"s":"HA-eDRL,β=1.0","d":512,"v":32.7},{"s":"HA-eDRL,β=1.0","d":640,"v":36.8},{"s":"HA-eDRL,β=1.0","d":768,"v":40},{"s":"HA-eDRL,β=1.0","d":1024,"v":44.8},{"s":"HA-eDRL,β=1.0","d":1280,"v":48.1},{"s":"HA-eDRL,β=1.0","d":1536,"v":50.5},{"s":"HA-eDRL,β=1.0","d":1792,"v":52.8},{"s":"HA-eDRL,β=1.0","d":2048,"v":54.6},{"s":"HA-eDRL,β=1.0","d":2304,"v":56.2},{"s":"HA-eDRL,β=1.0","d":2560,"v":57.5},{"s":"HA-eDRL,β=1.0","d":2816,"v":58.6},{"s":"HA-eDRL,β=1.0","d":3072,"v":59.4},{"s":"HA-eDRL,β=1.0","d":3328,"v":60},{"s":"HA-eDRL,β=1.0","d":3584,"v":60.5},{"s":"HA-eDRL,β=1.0","d":3840,"v":60.9},{"s":"HA-eDRL,β=1.0","d":4096,"v":61.2},{"s":"HA-eDRL,β=1.0","d":4352,"v":61.4},{"s":"HA-eDRL,β=1.0","d":4400,"v":61.4},
{"s":"HA-eDRL,β=2.0","d":0,"v":100},{"s":"HA-eDRL,β=2.0","d":12,"v":86},{"s":"HA-eDRL,β=2.0","d":20,"v":81},{"s":"HA-eDRL,β=2.0","d":40,"v":81.8},{"s":"HA-eDRL,β=2.0","d":256,"v":81.8},{"s":"HA-eDRL,β=2.0","d":512,"v":81.8},{"s":"HA-eDRL,β=2.0","d":768,"v":81.8},{"s":"HA-eDRL,β=2.0","d":1024,"v":81.8},{"s":"HA-eDRL,β=2.0","d":1280,"v":81.8},{"s":"HA-eDRL,β=2.0","d":1536,"v":81.8},{"s":"HA-eDRL,β=2.0","d":1792,"v":81.8},{"s":"HA-eDRL,β=2.0","d":2048,"v":81.8},{"s":"HA-eDRL,β=2.0","d":2304,"v":81.8},{"s":"HA-eDRL,β=2.0","d":2560,"v":81.8},{"s":"HA-eDRL,β=2.0","d":2816,"v":81.8},{"s":"HA-eDRL,β=2.0","d":3072,"v":81.8},{"s":"HA-eDRL,β=2.0","d":3328,"v":81.8},{"s":"HA-eDRL,β=2.0","d":3584,"v":81.8},{"s":"HA-eDRL,β=2.0","d":3840,"v":81.8},{"s":"HA-eDRL,β=2.0","d":4096,"v":81.8},{"s":"HA-eDRL,β=2.0","d":4352,"v":81.8},{"s":"HA-eDRL,β=2.0","d":4400,"v":81.8}
]
},
"hconcat": [
{
  "width": 445, "height": 290,
  "title": {"text": "(a) Maximal performance in 3 simulated days.", "orient": "bottom", "offset": 15, "frame": "group", "anchor": "middle", "dx": 3},
  "encoding": {"x": {"field": "t", "type": "quantitative", "scale": {"domain": [-0.148, 3.11], "nice": false, "zero": false}, "axis": {"values": [0, 0.5, 1, 1.5, 2, 2.5, 3], "format": ".1f", "title": "Simulated Time (days)", "titlePadding": 5}}},
  "layer": [
    {"data": {"name": "rho"}, "mark": {"type": "line", "color": "#6495ED", "strokeWidth": 1, "strokeDash": [1, 1.5], "interpolate": "monotone"},
     "encoding": {"y": {"field": "rho", "type": "quantitative", "scale": {"domain": [0.262, 1.03], "nice": false, "zero": false}, "axis": {"orient": "right", "values": [0.3, 0.4, 0.5, 0.6, 0.7, 0.8, 0.9, 1.0], "format": ".1f", "labelColor": "#6495ED", "title": "ρ", "titleColor": "#6495ED", "titleAngle": 270, "titlePadding": 6}}}},
    {"data": {"name": "a"},
     "encoding": {
       "y": {"field": "v", "type": "quantitative", "scale": {"domain": [17, 104], "nice": false, "zero": false}, "axis": {"orient": "left", "values": [20, 30, 40, 50, 60, 70, 80, 90, 100], "title": "Maximal Global Acceptance Ratio (%)", "titlePadding": 8}},
       "color": {"field": "s", "type": "nominal", "scale": {"domain": ["DRL","eDRL","HA-DRL,β=0.1","HA-eDRL,β=0.1","HA-DRL,β=0.5","HA-eDRL,β=0.5","HA-DRL,β=1.0","HA-eDRL,β=1.0","HA-DRL,β=2.0","HA-eDRL,β=2.0"], "range": ["#000000","#ff0000","#000000","#ff0000","#000000","#ff0000","#000000","#ff0000","#000000","#ff0000"]}, "legend": null}
     },
     "layer": [
       {"mark": {"type": "line", "strokeWidth": 1}},
       {"transform": [{"filter": "indexof([0.13,0.5,0.87,1.41,1.72,2.345,2.575], datum.t) >= 0 && indexof(datum.s, 'β') < 0"}], "mark": {"type": "point", "shape": "circle", "filled": true, "size": 30, "opacity": 1}},
       {"transform": [{"filter": "indexof([0.13,0.5,0.87,1.41,1.72,2.345,2.575], datum.t) >= 0 && indexof(datum.s, '=0.1') >= 0"}], "mark": {"type": "point", "shape": "triangle-down", "filled": true, "size": 110, "opacity": 1}},
       {"transform": [{"filter": "indexof([0.13,0.5,0.87,1.41,1.72,2.345,2.575], datum.t) >= 0 && indexof(datum.s, '=0.5') >= 0"}], "mark": {"type": "point", "shape": "M0,-1V1M-1,0H1", "filled": false, "size": 100, "strokeWidth": 1.2, "opacity": 1}},
       {"transform": [{"filter": "indexof([0.13,0.5,0.87,1.41,1.72,2.345,2.575], datum.t) >= 0 && indexof(datum.s, '=1.0') >= 0"}], "mark": {"type": "point", "shape": "M0,-1L0.235,-0.324L0.951,-0.309L0.38,0.124L0.588,0.809L0,0.4L-0.588,0.809L-0.38,0.124L-0.951,-0.309L-0.235,-0.324Z", "filled": true, "size": 121, "opacity": 1}},
       {"transform": [{"filter": "indexof([0.13,0.5,0.87,1.41,1.72,2.345,2.575], datum.t) >= 0 && indexof(datum.s, '=2.0') >= 0"}], "mark": {"type": "point", "shape": "M-1,-1L1,1M-1,1L1,-1", "filled": false, "size": 80, "strokeWidth": 1.2, "opacity": 1}},
       {"transform": [{"filter": "false"}], "mark": {"type": "point", "filled": true, "size": 400, "strokeWidth": 1.2, "opacity": 1},
        "encoding": {
          "shape": {"field": "s", "type": "nominal", "scale": {"domain": ["DRL","HA-DRL,β=0.1","HA-DRL,β=0.5","HA-DRL,β=1.0","HA-DRL,β=2.0","eDRL","HA-eDRL,β=0.1","HA-eDRL,β=0.5","HA-eDRL,β=1.0","HA-eDRL,β=2.0"], "range": [
            "M-1.1,0H3.3M0.75,0A0.35,0.35 0 1,0 1.45,0A0.35,0.35 0 1,0 0.75,0Z",
            "M-1.1,0H3.3M0.45,-0.4L1.75,-0.4L1.1,0.67Z",
            "M-1.1,0H3.3M1.1,-0.5V0.5",
            "M-1.1,0H3.3M1.1,-0.55L1.229,-0.178L1.623,-0.17L1.309,0.068L1.423,0.445L1.1,0.22L0.777,0.445L0.891,0.068L0.577,-0.17L0.971,-0.178Z",
            "M-1.1,0H3.3M0.65,-0.45L1.55,0.45M0.65,0.45L1.55,-0.45",
            "M-1.1,0H3.3M0.75,0A0.35,0.35 0 1,0 1.45,0A0.35,0.35 0 1,0 0.75,0Z",
            "M-1.1,0H3.3M0.45,-0.4L1.75,-0.4L1.1,0.67Z",
            "M-1.1,0H3.3M1.1,-0.5V0.5",
            "M-1.1,0H3.3M1.1,-0.55L1.229,-0.178L1.623,-0.17L1.309,0.068L1.423,0.445L1.1,0.22L0.777,0.445L0.891,0.068L0.577,-0.17L0.971,-0.178Z",
            "M-1.1,0H3.3M0.65,-0.45L1.55,0.45M0.65,0.45L1.55,-0.45"]},
            "legend": {"title": null, "orient": "none", "legendX": -26.6, "legendY": -174.3, "columns": 2, "columnPadding": 45, "rowPadding": 10, "symbolSize": 400, "symbolStrokeWidth": 1.2, "labelFont": "DejaVu Sans", "labelFontSize": 21, "labelOffset": 39, "labelLimit": 400, "labelColor": "#000000", "padding": 8, "strokeColor": "#cccccc", "fillColor": "#ffffff", "cornerRadius": 4}},
          "fill": {"field": "s", "type": "nominal", "scale": {"domain": ["DRL","HA-DRL,β=0.1","HA-DRL,β=0.5","HA-DRL,β=1.0","HA-DRL,β=2.0","eDRL","HA-eDRL,β=0.1","HA-eDRL,β=0.5","HA-eDRL,β=1.0","HA-eDRL,β=2.0"], "range": ["#000000","#000000","#000000","#000000","#000000","#ff0000","#ff0000","#ff0000","#ff0000","#ff0000"]}},
          "stroke": {"field": "s", "type": "nominal", "scale": {"domain": ["DRL","HA-DRL,β=0.1","HA-DRL,β=0.5","HA-DRL,β=1.0","HA-DRL,β=2.0","eDRL","HA-eDRL,β=0.1","HA-eDRL,β=0.5","HA-eDRL,β=1.0","HA-eDRL,β=2.0"], "range": ["#000000","#000000","#000000","#000000","#000000","#ff0000","#ff0000","#ff0000","#ff0000","#ff0000"]}}
        }}
     ]}
  ],
  "resolve": {"scale": {"y": "independent"}}
},
{
  "spacing": 8,
  "bounds": "flush",
  "resolve": {"scale": {"color": "independent", "shape": "independent", "fill": "independent", "stroke": "independent"}, "legend": {"color": "independent", "shape": "independent", "fill": "independent", "stroke": "independent"}},
  "vconcat": [
  {
    "width": 10, "height": 1,
    "view": {"stroke": null},
    "data": {"values": []},
    "mark": {"type": "point", "opacity": 0}
  },
  {
    "width": 445, "height": 290,
    "title": {"text": "(b) Maximal performance in 4500 simulated days.", "orient": "bottom", "offset": 5, "frame": "group", "anchor": "middle", "dx": -29},
    "data": {"name": "b"},
    "encoding": {
      "x": {"field": "d", "type": "quantitative", "scale": {"domain": [-220, 4620], "nice": false, "zero": false}, "axis": {"values": [0, 1000, 2000, 3000, 4000], "format": "d", "title": "Simulated Time (days)", "titlePadding": 5}},
      "y": {"field": "v", "type": "quantitative", "scale": {"domain": [-0.6, 104.8], "nice": false, "zero": false}, "axis": {"values": [0, 20, 40, 60, 80, 100], "title": "Maximal Global Acceptance Ratio (%)", "titlePadding": 5}},
      "color": {"field": "s", "type": "nominal", "scale": {"domain": ["DRL","eDRL","HA-DRL,β=0.1","HA-eDRL,β=0.1","HA-DRL,β=0.5","HA-eDRL,β=0.5","HA-DRL,β=1.0","HA-eDRL,β=1.0","HA-DRL,β=2.0","HA-eDRL,β=2.0"], "range": ["#000000","#ff0000","#000000","#ff0000","#000000","#ff0000","#000000","#ff0000","#000000","#ff0000"]}, "legend": null}
    },
    "layer": [
      {"mark": {"type": "line", "strokeWidth": 1}},
      {"transform": [{"filter": "datum.d % 256 == 0 && indexof(datum.s, 'β') < 0"}], "mark": {"type": "point", "shape": "circle", "filled": true, "size": 30, "opacity": 1}},
      {"transform": [{"filter": "datum.d % 256 == 0 && indexof(datum.s, '=0.1') >= 0"}], "mark": {"type": "point", "shape": "triangle-down", "filled": true, "size": 130, "opacity": 1}},
      {"transform": [{"filter": "datum.d % 256 == 0 && indexof(datum.s, '=0.5') >= 0"}], "mark": {"type": "point", "shape": "M0,-1V1M-1,0H1", "filled": false, "size": 110, "strokeWidth": 1.2, "opacity": 1}},
      {"transform": [{"filter": "datum.d % 256 == 0 && indexof(datum.s, '=1.0') >= 0"}], "mark": {"type": "point", "shape": "M0,-1L0.235,-0.324L0.951,-0.309L0.38,0.124L0.588,0.809L0,0.4L-0.588,0.809L-0.38,0.124L-0.951,-0.309L-0.235,-0.324Z", "filled": true, "size": 130, "opacity": 1}},
      {"transform": [{"filter": "datum.d % 256 == 0 && indexof(datum.s, '=2.0') >= 0"}], "mark": {"type": "point", "shape": "M-1,-1L1,1M-1,1L1,-1", "filled": false, "size": 100, "strokeWidth": 1.2, "opacity": 1}},
      {"transform": [{"filter": "false"}], "mark": {"type": "point", "filled": true, "size": 400, "strokeWidth": 1.2, "opacity": 1},
       "encoding": {
         "shape": {"field": "s", "type": "nominal", "scale": {"domain": ["DRL","HA-DRL,β=0.1","HA-DRL,β=0.5","HA-DRL,β=1.0","HA-DRL,β=2.0","eDRL","HA-eDRL,β=0.1","HA-eDRL,β=0.5","HA-eDRL,β=1.0","HA-eDRL,β=2.0"], "range": [
            "M-1.1,0H3.3M0.75,0A0.35,0.35 0 1,0 1.45,0A0.35,0.35 0 1,0 0.75,0Z",
            "M-1.1,0H3.3M0.45,-0.4L1.75,-0.4L1.1,0.67Z",
            "M-1.1,0H3.3M1.1,-0.5V0.5",
            "M-1.1,0H3.3M1.1,-0.55L1.229,-0.178L1.623,-0.17L1.309,0.068L1.423,0.445L1.1,0.22L0.777,0.445L0.891,0.068L0.577,-0.17L0.971,-0.178Z",
            "M-1.1,0H3.3M0.65,-0.45L1.55,0.45M0.65,0.45L1.55,-0.45",
            "M-1.1,0H3.3M0.75,0A0.35,0.35 0 1,0 1.45,0A0.35,0.35 0 1,0 0.75,0Z",
            "M-1.1,0H3.3M0.45,-0.4L1.75,-0.4L1.1,0.67Z",
            "M-1.1,0H3.3M1.1,-0.5V0.5",
            "M-1.1,0H3.3M1.1,-0.55L1.229,-0.178L1.623,-0.17L1.309,0.068L1.423,0.445L1.1,0.22L0.777,0.445L0.891,0.068L0.577,-0.17L0.971,-0.178Z",
            "M-1.1,0H3.3M0.65,-0.45L1.55,0.45M0.65,0.45L1.55,-0.45"]},
           "legend": {"title": null, "orient": "none", "legendX": -26.7, "legendY": -173.3, "columns": 2, "columnPadding": 45, "rowPadding": 10, "symbolSize": 400, "symbolStrokeWidth": 1.2, "labelFont": "DejaVu Sans", "labelFontSize": 21, "labelOffset": 39, "labelLimit": 400, "labelColor": "#000000", "padding": 8, "strokeColor": "#cccccc", "fillColor": "#ffffff", "cornerRadius": 4}},
         "fill": {"field": "s", "type": "nominal", "scale": {"domain": ["DRL","HA-DRL,β=0.1","HA-DRL,β=0.5","HA-DRL,β=1.0","HA-DRL,β=2.0","eDRL","HA-eDRL,β=0.1","HA-eDRL,β=0.5","HA-eDRL,β=1.0","HA-eDRL,β=2.0"], "range": ["#000000","#000000","#000000","#000000","#000000","#ff0000","#ff0000","#ff0000","#ff0000","#ff0000"]}},
         "stroke": {"field": "s", "type": "nominal", "scale": {"domain": ["DRL","HA-DRL,β=0.1","HA-DRL,β=0.5","HA-DRL,β=1.0","HA-DRL,β=2.0","eDRL","HA-eDRL,β=0.1","HA-eDRL,β=0.5","HA-eDRL,β=1.0","HA-eDRL,β=2.0"], "range": ["#000000","#000000","#000000","#000000","#000000","#ff0000","#ff0000","#ff0000","#ff0000","#ff0000"]}}
       }}
    ]
  }
  ]
}
]
}
